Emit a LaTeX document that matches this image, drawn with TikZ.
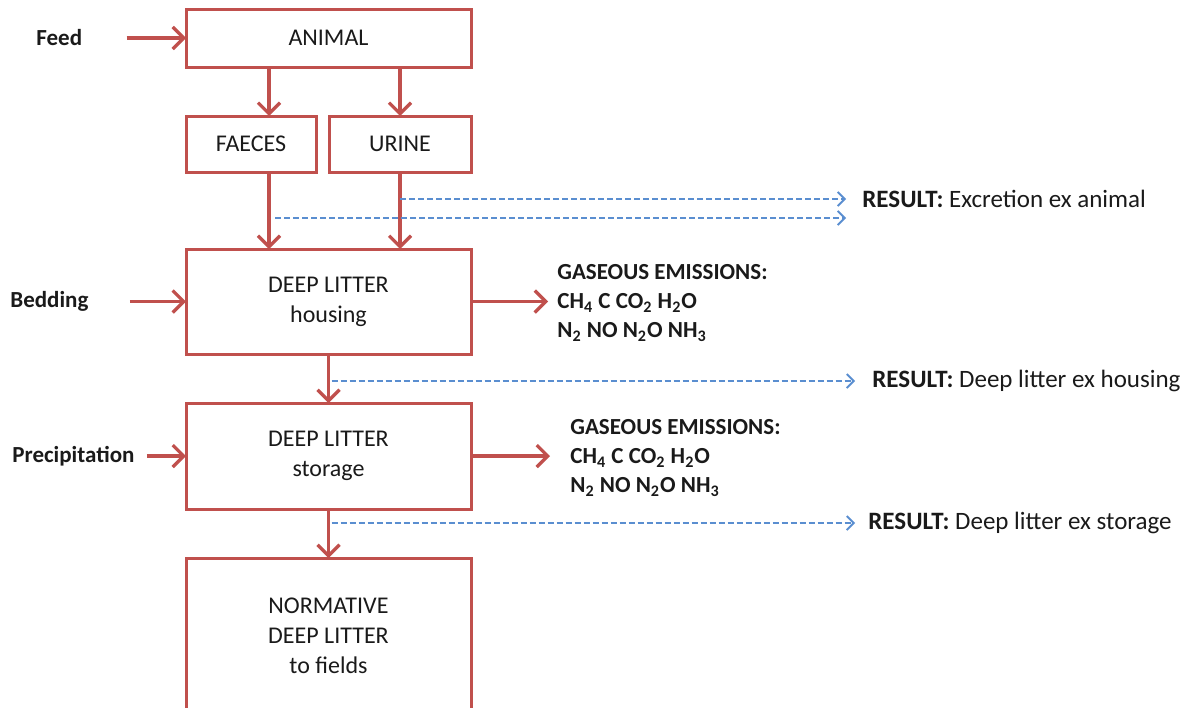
\documentclass[tikz,border=0pt]{standalone}
\usepackage{fontspec}
\setmainfont{Carlito}
\usetikzlibrary{arrows.meta,positioning}
\definecolor{ink}{HTML}{1A1A1A}
\definecolor{flowred}{HTML}{C0504D}
\definecolor{leakblue}{HTML}{5A8ED0}
\tikzset{
  box/.style={draw=flowred, line width=1.5pt, align=center, outer sep=0pt, minimum width=142.5pt, text=ink, font=\fontsize{12}{15}\selectfont},
  side/.style={anchor=west, inner sep=0pt, text=ink, font=\fontsize{11.5}{14}\selectfont\bfseries},
  gas/.style={anchor=west, inner sep=0pt, align=left, text=ink, font=\fontsize{11.5}{14.5}\selectfont\bfseries},
  result/.style={anchor=west, inner sep=0pt, text=ink, font=\fontsize{12.5}{15}\selectfont},
  flow/.style={-{Straight Barb[length=5.5pt, width=11pt]}, line width=1.6pt, draw=flowred},
  leak/.style={-{Straight Barb[length=3.5pt, width=7pt]}, line width=0.9pt, draw=leakblue, dash pattern=on 3pt off 1.5pt}
}

\begin{document}
\begin{tikzpicture}[x=1pt, y=1pt, node distance=24.5pt]
  \useasboundingbox (0,0) rectangle (596,-353.5);

  \node[box, minimum height=29pt] (animal) at (164.25,-19) {ANIMAL};
  \node[box, minimum width=65pt, minimum height=28pt, below right=24.5pt and 0pt of animal.south west] (faeces) {FAECES};
  \node[box, minimum width=71pt, minimum height=28pt, right=6.5pt of faeces] (urine) {URINE};
  \node[box, minimum height=52.5pt, below right=38.5pt and 0pt of faeces.south west] (housing) {DEEP LITTER\\housing};
  \node[box, minimum height=53pt, below=of housing] (storage) {DEEP LITTER\\storage};
  \node[box, minimum height=78pt, below=of storage] (fields) {NORMATIVE\\DEEP LITTER\\to fields};

  % inputs on the left
  \node[side] (feed) at (18,-19) {Feed};
  \node[side] (bedding) at (5,-150.75) {Bedding};
  \node[side] (precip) at (6,-228) {Precipitation};

  % gaseous losses
  \node[gas] (gas1) at (278.5,-151.5) {GASEOUS EMISSIONS:\\CH\textsubscript{4} C CO\textsubscript{2} H\textsubscript{2}O\\N\textsubscript{2} NO N\textsubscript{2}O NH\textsubscript{3}};
  \node[gas] (gas2) at (285,-229) {GASEOUS EMISSIONS:\\CH\textsubscript{4} C CO\textsubscript{2} H\textsubscript{2}O\\N\textsubscript{2} NO N\textsubscript{2}O NH\textsubscript{3}};

  % results
  \node[result] (rexc) at (431,-99.5) {\textbf{RESULT:} Excretion ex animal};
  \coordinate[below=9.5pt of rexc.west] (rexc2);
  \node[result] (rhous) at (436,-190.5) {\textbf{RESULT:} Deep litter ex housing};
  \node[result] (rstor) at (434,-261.5) {\textbf{RESULT:} Deep litter ex storage};

  \draw[flow] ([xshift=22pt]feed.east) -- (feed.east -| animal.west);
  \draw[flow] ([xshift=20.5pt]bedding.east) -- (bedding.east -| housing.west);
  \draw[flow] ([xshift=6pt]precip.east) -- (precip.east -| storage.west);

  \draw[flow] ([xshift=9pt]faeces.north |- animal.south) -- ([xshift=9pt]faeces.north);
  \draw[flow] (urine.north |- animal.south) -- (urine.north);
  \draw[flow] ([xshift=9pt]faeces.south) -- ([xshift=9pt]faeces.south |- housing.north);
  \draw[flow] (urine.south) -- (urine.south |- housing.north);
  \draw[flow] (housing) -- (storage);
  \draw[flow] (storage) -- (fields);

  \draw[flow] (housing.east) -- ([xshift=-4.5pt]gas1.west |- housing.east);
  \draw[flow] (storage.east) -- ([xshift=-10pt]gas2.west |- storage.east);

  \draw[leak] (urine.south |- rexc.west) -- ([xshift=-8pt]rexc.west);
  \draw[leak] ([xshift=12pt]faeces.south |- rexc2) -- ([xshift=-8pt]rexc2);
  \draw[leak] ([xshift=1.5pt]housing.south |- rhous.west) -- ([xshift=-8.5pt]rhous.west);
  \draw[leak] ([xshift=1.5pt]storage.south |- rstor.west) -- ([xshift=-6.5pt]rstor.west);
\end{tikzpicture}
\end{document}
